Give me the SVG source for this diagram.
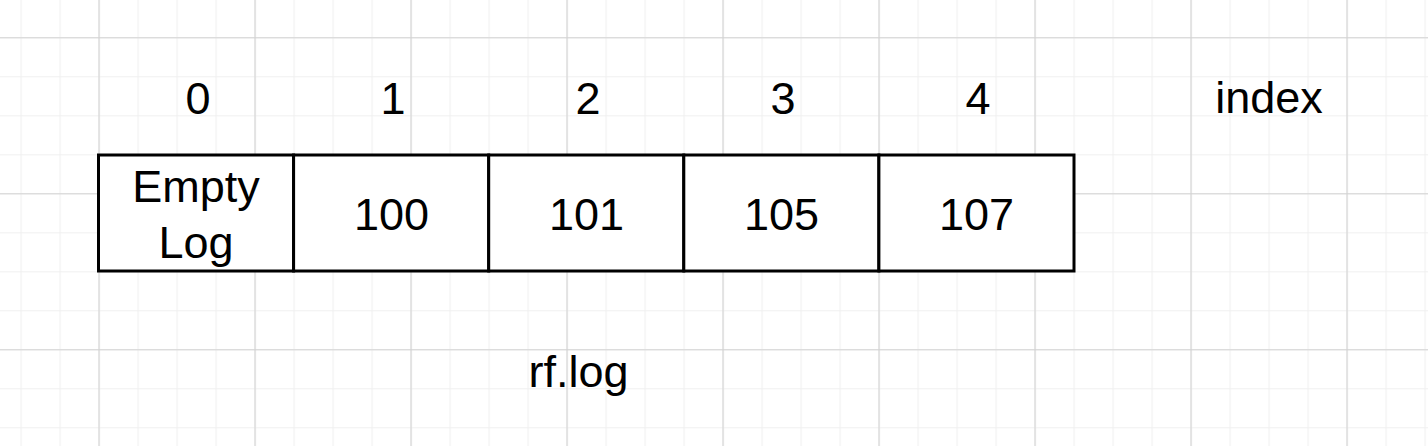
<svg xmlns="http://www.w3.org/2000/svg" width="1428" height="446" viewBox="0 0 1428 446">
<defs>
<pattern id="minor" x="20.5" y="37.3" width="39" height="39" patternUnits="userSpaceOnUse">
<path d="M0 0.5H39M0.5 0V39" fill="none" stroke="#f0f0f0" stroke-width="1.2"/>
</pattern>
<pattern id="major" x="98.5" y="37.3" width="156" height="156" patternUnits="userSpaceOnUse">
<path d="M0 0.5H156M0.5 0V156" fill="none" stroke="#d2d2d2" stroke-width="1.2"/>
</pattern>
<style>
.t{font-family:"Liberation Sans",Arial,sans-serif;font-size:45px;fill:#000;text-anchor:middle}
.cell{fill:#fff;stroke:#000;stroke-width:3}
</style>
</defs>
<rect width="1428" height="446" fill="#fff"/>
<rect width="1428" height="446" fill="url(#minor)"/>
<rect width="1428" height="446" fill="url(#major)"/>
<g id="labels">
<text class="t" x="198" y="114">0</text>
<text class="t" x="393" y="114">1</text>
<text class="t" x="588" y="114">2</text>
<text class="t" x="783" y="114">3</text>
<text class="t" x="978" y="114">4</text>
<text class="t" x="1269" y="113">index</text>
<text class="t" x="578.5" y="387">rf.log</text>
</g>
<g id="cell0"><rect class="cell" x="98.5" y="155" width="195.1" height="116"/><text class="t" x="196" y="201.5">Empty</text><text class="t" x="196" y="258">Log</text></g>
<g id="cell1"><rect class="cell" x="293.6" y="155" width="195.1" height="116"/><text class="t" x="391.5" y="230">100</text></g>
<g id="cell2"><rect class="cell" x="488.7" y="155" width="195.1" height="116"/><text class="t" x="586.5" y="230">101</text></g>
<g id="cell3"><rect class="cell" x="683.8" y="155" width="195.1" height="116"/><text class="t" x="781.5" y="230">105</text></g>
<g id="cell4"><rect class="cell" x="878.9" y="155" width="195.1" height="116"/><text class="t" x="976.5" y="230">107</text></g>
<g id="connectors"/>
</svg>
